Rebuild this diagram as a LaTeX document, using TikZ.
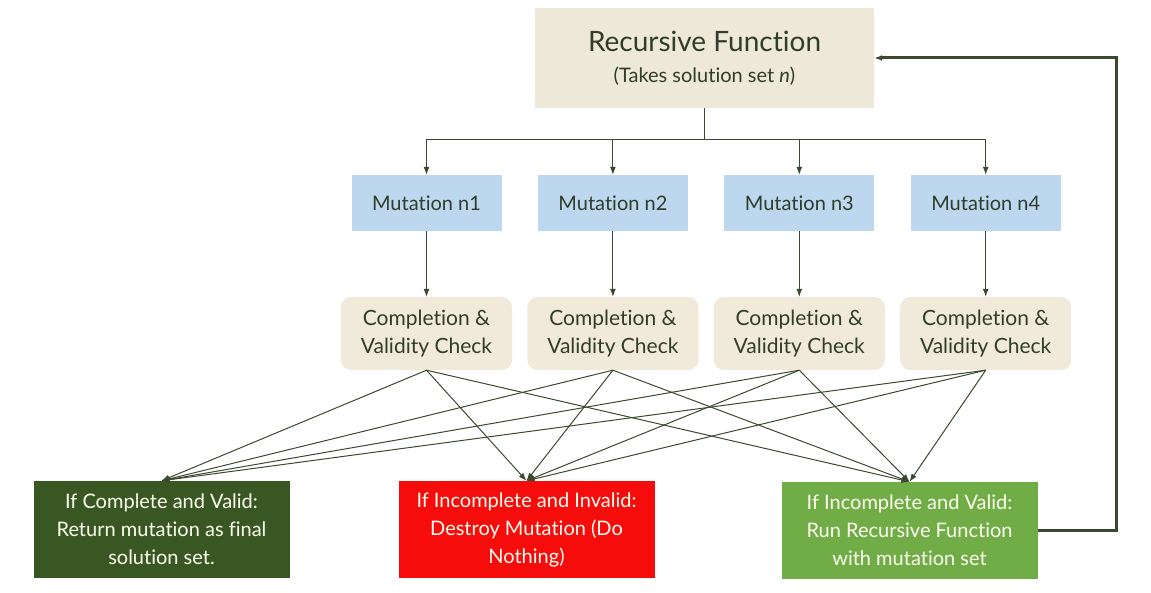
\documentclass[tikz,border=0pt]{standalone}
\usepackage{fontspec}
\setmainfont{Lato}[Ligatures=NoCommon]
\usepackage{tikz}
\usetikzlibrary{positioning, arrows.meta}
\definecolor{linegreen}{HTML}{3A4A2E}
\definecolor{textgreen}{HTML}{2F3D2A}
\definecolor{beige}{HTML}{EEE8D9}
\definecolor{lightbeige}{HTML}{F1EADB}
\definecolor{mutblue}{HTML}{BDD7EE}
\definecolor{darkgreen}{HTML}{385723}
\definecolor{okgreen}{HTML}{70AD47}
\definecolor{badred}{HTML}{F70C0C}
\tikzset{
  >={Latex[length=8pt,width=6pt]},
  link/.style={draw=linegreen, line width=1pt, ->},
  mutbox/.style={fill=mutblue, draw=none, minimum width=150pt, minimum height=56pt,
    text=textgreen, font=\fontsize{20}{24}\selectfont},
  checkbox/.style={fill=lightbeige, draw=none, rounded corners=10pt, minimum width=171pt,
    minimum height=73pt, align=center, text=textgreen, font=\fontsize{21}{28}\selectfont},
  endbox/.style={draw=none, minimum width=256pt, minimum height=97pt, align=center,
    text=white!94!yellow, font=\fontsize{20}{28}\selectfont},
}

\begin{document}
\begin{tikzpicture}[x=1pt, y=-1pt]
  \useasboundingbox (0,0) rectangle (1151,593);

  % top
  \node[fill=beige, draw=none, minimum width=339pt, minimum height=100pt, align=center,
    text=textgreen, font=\fontsize{28}{32}\selectfont] (rf) at (704.5,58)
    {Recursive Function\\[-1pt]
     {\fontsize{20}{26}\selectfont (Takes solution set \textit{n})}};

  % mutations
  \node[mutbox] (m1) at (426.5,203) {Mutation n1};
  \node[mutbox, right=36pt of m1] (m2) {Mutation n2};
  \node[mutbox, right=36pt of m2] (m3) {Mutation n3};
  \node[mutbox, right=36pt of m3] (m4) {Mutation n4};

  % checks
  \foreach \i in {1,...,4}
    \node[checkbox] (c\i) at (m\i |- 0,333.5) {Completion \&\\Validity Check};

  % outcomes
  \node[endbox, fill=darkgreen] (done) at (161.5,529.5)
    {If Complete and Valid:\\Return mutation as final\\solution set.};
  \node[endbox, fill=badred] (drop) at (526.5,529.5)
    {If Incomplete and Invalid:\\Destroy Mutation (Do\\Nothing)};
  \node[endbox, fill=okgreen] (rerun) at (909.5,530.5)
    {If Incomplete and Valid:\\Run Recursive Function\\with mutation set};

  % connectors
  \coordinate (bus) at (704.5,140);
  \foreach \i in {1,...,4} {
    \draw[link] (rf.south) -- (bus) -| (m\i.north);
    \draw[link] (m\i.south) -- (c\i.north);
    \foreach \o in {done, drop, rerun}
      \draw[link] (c\i.south) -- (\o.north);
  }
  \draw[link, line width=3pt] (rerun.east) -- ++(79,0) |- (rf.east);
\end{tikzpicture}
\end{document}
